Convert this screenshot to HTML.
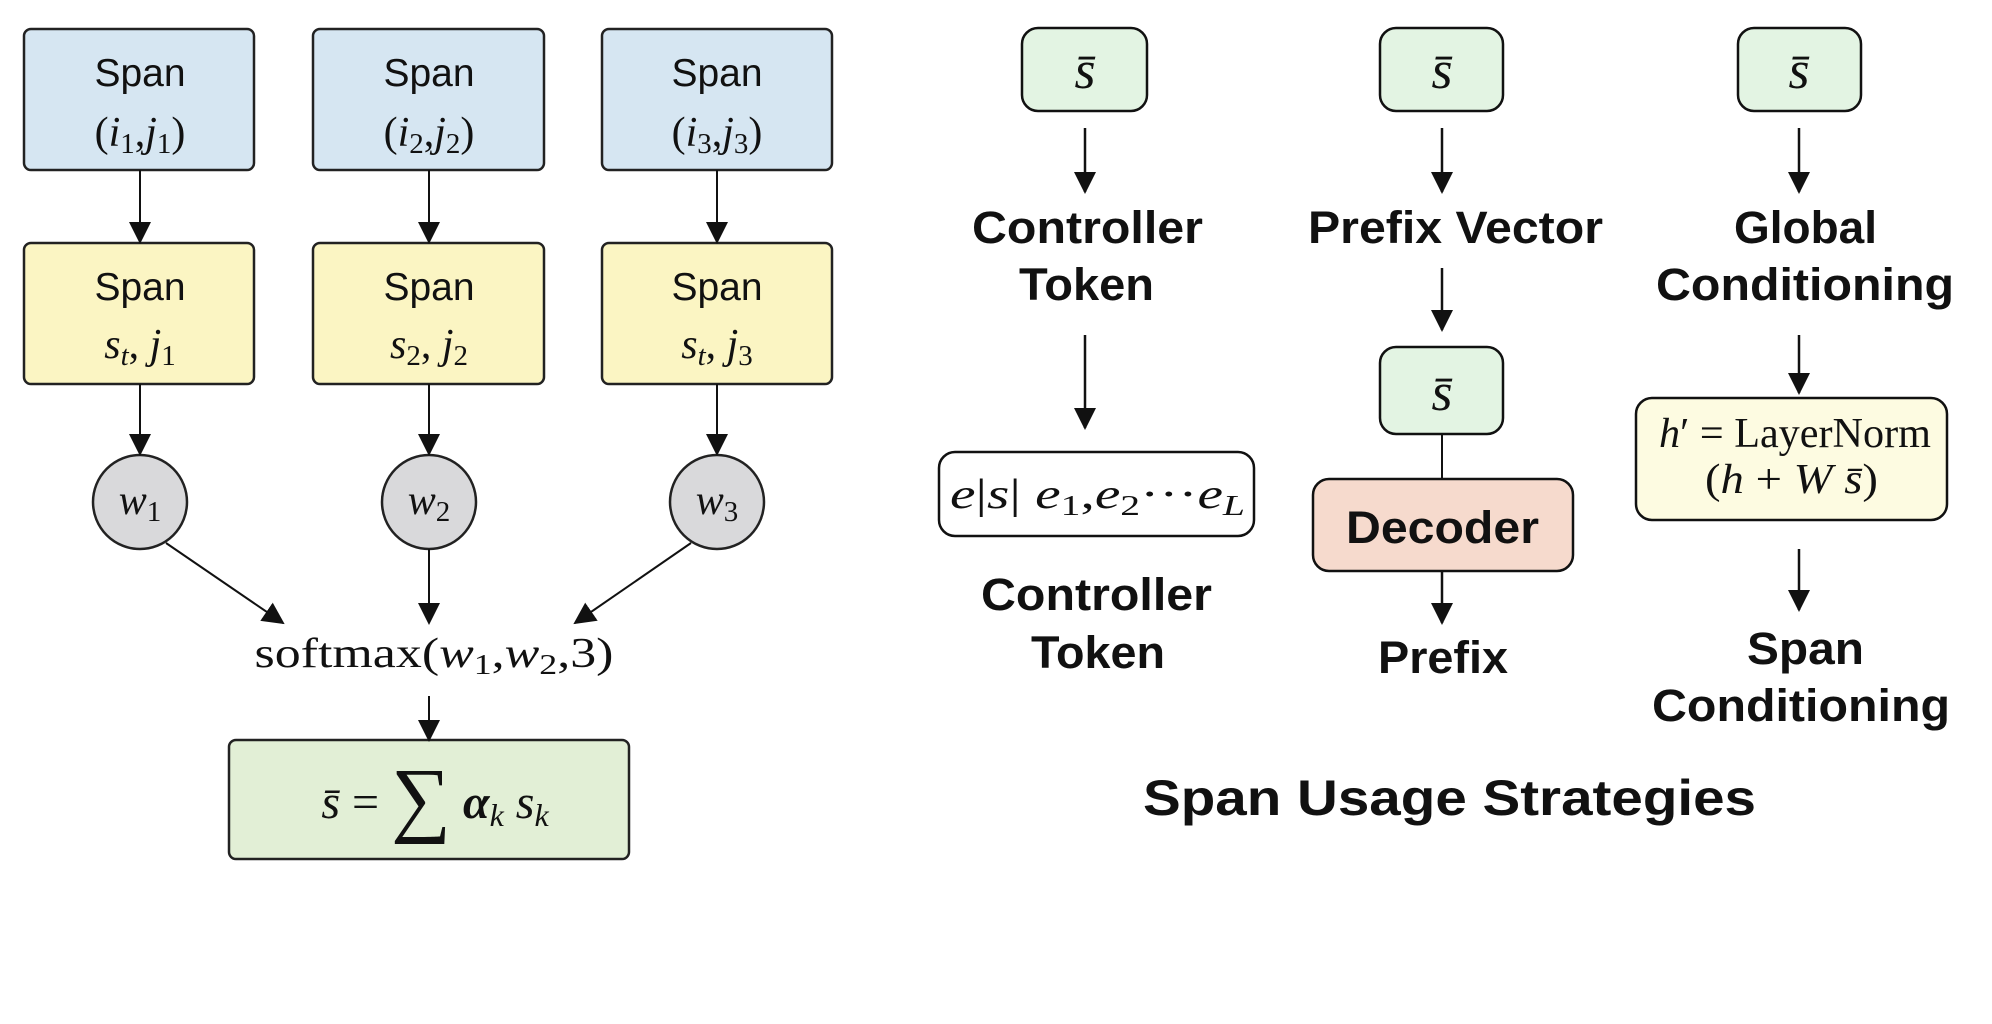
<!DOCTYPE html>
<html><head><meta charset="utf-8"><style>
html,body{margin:0;padding:0;background:#fff;}
svg{display:block;}
.s{font-family:"Liberation Sans",sans-serif;}
.m{font-family:"Liberation Serif",serif;}
</style></head><body>
<svg width="1992" height="1024" viewBox="0 0 1992 1024" xmlns="http://www.w3.org/2000/svg">
<defs>
<marker id="b" markerWidth="22" markerHeight="22" refX="20" refY="11" orient="auto" markerUnits="userSpaceOnUse" viewBox="0 0 22 22"><path d="M0,0 L22,11 L0,22 z" fill="#111"/></marker>
</defs>
<g stroke="#222" stroke-width="2.5">
<rect x="24" y="29" width="230" height="141" rx="7" fill="#d6e6f2"/>
<rect x="313" y="29" width="231" height="141" rx="7" fill="#d6e6f2"/>
<rect x="602" y="29" width="230" height="141" rx="7" fill="#d6e6f2"/>
<rect x="24" y="243" width="230" height="141" rx="7" fill="#fbf5c3"/>
<rect x="313" y="243" width="231" height="141" rx="7" fill="#fbf5c3"/>
<rect x="602" y="243" width="230" height="141" rx="7" fill="#fbf5c3"/>
<circle cx="140" cy="502" r="47" fill="#d9d9db"/>
<circle cx="429" cy="502" r="47" fill="#d9d9db"/>
<circle cx="717" cy="502" r="47" fill="#d9d9db"/>
<rect x="229" y="740" width="400" height="119" rx="7" fill="#e2efd6"/>
</g>
<g stroke="#111" stroke-width="2" fill="none" marker-end="url(#b)">
<line x1="140" y1="170" x2="140" y2="242"/>
<line x1="429" y1="170" x2="429" y2="242"/>
<line x1="717" y1="170" x2="717" y2="242"/>
<line x1="140" y1="384" x2="140" y2="454"/>
<line x1="429" y1="384" x2="429" y2="454"/>
<line x1="717" y1="384" x2="717" y2="454"/>
<line x1="166" y1="543" x2="283" y2="623"/>
<line x1="429" y1="549" x2="429" y2="623"/>
<line x1="691" y1="543" x2="575" y2="623"/>
<line x1="429" y1="696" x2="429" y2="740"/>
</g>
<g class="s" font-size="39" fill="#111" text-anchor="middle">
<text x="140" y="86">Span</text><text x="429" y="86">Span</text><text x="717" y="86">Span</text>
<text x="140" y="300">Span</text><text x="429" y="300">Span</text><text x="717" y="300">Span</text>
</g>
<g class="m" font-size="42" fill="#111" text-anchor="middle">
<text x="140" y="146">(<tspan font-style="italic">i</tspan><tspan font-size="29" dy="7">1</tspan><tspan dy="-7">,</tspan><tspan font-style="italic">j</tspan><tspan font-size="29" dy="7">1</tspan><tspan dy="-7">)</tspan></text>
<text x="429" y="146">(<tspan font-style="italic">i</tspan><tspan font-size="29" dy="7">2</tspan><tspan dy="-7">,</tspan><tspan font-style="italic">j</tspan><tspan font-size="29" dy="7">2</tspan><tspan dy="-7">)</tspan></text>
<text x="717" y="146">(<tspan font-style="italic">i</tspan><tspan font-size="29" dy="7">3</tspan><tspan dy="-7">,</tspan><tspan font-style="italic">j</tspan><tspan font-size="29" dy="7">3</tspan><tspan dy="-7">)</tspan></text>
<text x="140" y="358"><tspan font-style="italic">s</tspan><tspan font-size="29" font-style="italic" dy="7">t</tspan><tspan dy="-7">, </tspan><tspan font-style="italic">j</tspan><tspan font-size="29" dy="7">1</tspan></text>
<text x="429" y="358"><tspan font-style="italic">s</tspan><tspan font-size="29" dy="7">2</tspan><tspan dy="-7">, </tspan><tspan font-style="italic">j</tspan><tspan font-size="29" dy="7">2</tspan></text>
<text x="717" y="358"><tspan font-style="italic">s</tspan><tspan font-size="29" font-style="italic" dy="7">t</tspan><tspan dy="-7">, </tspan><tspan font-style="italic">j</tspan><tspan font-size="29" dy="7">3</tspan></text>
<text x="140" y="514" font-style="italic">w<tspan font-size="29" font-style="normal" dy="7">1</tspan></text>
<text x="429" y="514" font-style="italic">w<tspan font-size="29" font-style="normal" dy="7">2</tspan></text>
<text x="717" y="514" font-style="italic">w<tspan font-size="29" font-style="normal" dy="7">3</tspan></text>
<text x="434" y="667" textLength="359" lengthAdjust="spacingAndGlyphs">softmax(<tspan font-style="italic">w</tspan><tspan font-size="29" dy="7">1</tspan><tspan dy="-7">,</tspan><tspan font-style="italic">w</tspan><tspan font-size="29" dy="7">2</tspan><tspan dy="-7">,3)</tspan></text>
<text x="435" y="818" font-size="48"><tspan font-style="italic">s̄</tspan> = <tspan font-size="84" dy="8">∑</tspan><tspan dy="-8"> </tspan><tspan font-style="italic" font-weight="bold">α</tspan><tspan font-size="32" font-style="italic" dy="8">k</tspan><tspan dy="-8"> </tspan><tspan font-style="italic">s</tspan><tspan font-size="32" font-style="italic" dy="8">k</tspan></text>
</g>
<!-- right -->
<g stroke="#111" stroke-width="2.5">
<rect x="1022" y="28" width="125" height="83" rx="16" fill="#e3f4e3"/>
<rect x="1380" y="28" width="123" height="83" rx="16" fill="#e3f4e3"/>
<rect x="1738" y="28" width="123" height="83" rx="16" fill="#e3f4e3"/>
<rect x="1380" y="347" width="123" height="87" rx="16" fill="#e3f4e3"/>
<rect x="939" y="452" width="315" height="84" rx="16" fill="#fff"/>
<rect x="1313" y="479" width="260" height="92" rx="16" fill="#f6dacd"/>
<rect x="1636" y="398" width="311" height="122" rx="16" fill="#fdfbe1"/>
<line x1="1442" y1="434" x2="1442" y2="479" stroke-width="2"/>
</g>
<g stroke="#111" stroke-width="2.5" marker-end="url(#b)">
<line x1="1085" y1="128" x2="1085" y2="192"/>
<line x1="1442" y1="128" x2="1442" y2="192"/>
<line x1="1799" y1="128" x2="1799" y2="192"/>
<line x1="1085" y1="335" x2="1085" y2="428"/>
<line x1="1442" y1="268" x2="1442" y2="330"/>
<line x1="1799" y1="335" x2="1799" y2="393"/>
<line x1="1442" y1="571" x2="1442" y2="623"/>
<line x1="1799" y1="549" x2="1799" y2="610"/>
</g>
<g class="m" font-size="54" fill="#111" text-anchor="middle" font-style="italic">
<text x="1085" y="88">s̄</text><text x="1442" y="88">s̄</text><text x="1799" y="88">s̄</text><text x="1442" y="410">s̄</text>
</g>
<g class="m" font-size="42" fill="#111">
<text x="950" y="508" textLength="295" lengthAdjust="spacingAndGlyphs"><tspan font-style="italic">e</tspan>|<tspan font-style="italic">s</tspan>| <tspan font-style="italic">e</tspan><tspan font-size="29" dy="7">1</tspan><tspan dy="-7">,</tspan><tspan font-style="italic">e</tspan><tspan font-size="29" dy="7">2</tspan><tspan dy="-7">···</tspan><tspan font-style="italic">e</tspan><tspan font-size="29" font-style="italic" dy="7">L</tspan></text>
<text x="1659" y="447" textLength="272" lengthAdjust="spacingAndGlyphs"><tspan font-style="italic">h</tspan>′ = LayerNorm</text>
<text x="1705" y="493" textLength="173" lengthAdjust="spacingAndGlyphs">(<tspan font-style="italic">h</tspan> + <tspan font-style="italic">W</tspan> <tspan font-style="italic">s̄</tspan>)</text>
</g>
<g class="s" font-size="45" font-weight="bold" fill="#111">
<text x="972" y="243" textLength="231" lengthAdjust="spacingAndGlyphs">Controller</text>
<text x="1019" y="300" textLength="135" lengthAdjust="spacingAndGlyphs">Token</text>
<text x="1308" y="243" textLength="295" lengthAdjust="spacingAndGlyphs">Prefix Vector</text>
<text x="1734" y="243" textLength="143" lengthAdjust="spacingAndGlyphs">Global</text>
<text x="1656" y="300" textLength="298" lengthAdjust="spacingAndGlyphs">Conditioning</text>
<text x="981" y="610" textLength="231" lengthAdjust="spacingAndGlyphs">Controller</text>
<text x="1031" y="668" textLength="134" lengthAdjust="spacingAndGlyphs">Token</text>
<text x="1346" y="543" textLength="193" lengthAdjust="spacingAndGlyphs">Decoder</text>
<text x="1378" y="673" textLength="130" lengthAdjust="spacingAndGlyphs">Prefix</text>
<text x="1747" y="664" textLength="117" lengthAdjust="spacingAndGlyphs">Span</text>
<text x="1652" y="721" textLength="298" lengthAdjust="spacingAndGlyphs">Conditioning</text>
<text x="1143" y="815" font-size="50" textLength="613" lengthAdjust="spacingAndGlyphs">Span Usage Strategies</text>
</g>
</svg>
</body></html>
